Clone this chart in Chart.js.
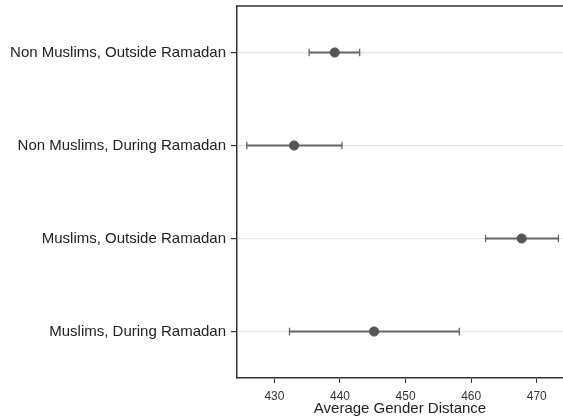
<!DOCTYPE html>
<html>
<head>
<meta charset="utf-8">
<script src="https://cdn.jsdelivr.net/npm/chart.js@4.4.1/dist/chart.umd.min.js"></script>
<style>
  body { margin: 0; background: #fff; }
</style>
</head>
<body>
<canvas id="dotChart" width="563" height="418"></canvas>
<script>
// groups, top to bottom
const groups = [
  'Non Muslims, Outside Ramadan',
  'Non Muslims, During Ramadan',
  'Muslims, Outside Ramadan',
  'Muslims, During Ramadan'
];
const means = [439.2, 433.0, 467.7, 445.2];
const lowers = [435.3, 425.8, 462.2, 432.3];
const uppers = [443.0, 440.3, 473.3, 458.2];
const xTicks = [430, 440, 450, 460, 470];

const topBorder = {
  id: 'topBorder',
  afterDraw(chart) {
    const { ctx, chartArea } = chart;
    ctx.save();
    ctx.strokeStyle = '#333';
    ctx.lineWidth = 1.5;
    ctx.beginPath();
    ctx.moveTo(chartArea.left, chartArea.top);
    ctx.lineTo(chartArea.right, chartArea.top);
    ctx.stroke();
    ctx.restore();
  }
};

const ctx = document.getElementById('dotChart').getContext('2d');
new Chart(ctx, {
  type: 'bar',
  data: {
    labels: groups,
    datasets: [
      {
        type: 'line',
        label: 'mean',
        data: means,
        showLine: false,
        pointRadius: 4.6,
        pointBackgroundColor: '#555',
        pointBorderColor: '#555',
        order: 0
      },
      {
        type: 'line',
        label: 'low',
        data: lowers,
        showLine: false,
        pointStyle: 'line',
        rotation: 90,
        pointRadius: 3.8,
        pointBorderWidth: 1.3,
        pointBorderColor: '#666',
        order: 1
      },
      {
        type: 'line',
        label: 'high',
        data: uppers,
        showLine: false,
        pointStyle: 'line',
        rotation: 90,
        pointRadius: 3.8,
        pointBorderWidth: 1.3,
        pointBorderColor: '#666',
        order: 1
      },
      {
        label: 'ci',
        data: groups.map((g, i) => [lowers[i], uppers[i]]),
        backgroundColor: '#666',
        borderWidth: 0,
        barThickness: 1.4,
        order: 2
      }
    ]
  },
  options: {
    indexAxis: 'y',
    responsive: false,
    animation: false,
    layout: {
      autoPadding: false,
      padding: { top: 6, right: 0, left: 0, bottom: 0 }
    },
    plugins: {
      legend: { display: false },
      tooltip: { enabled: false }
    },
    scales: {
      x: {
        type: 'linear',
        min: 424.3,
        max: 474,
        afterBuildTicks: (scale) => {
          scale.ticks = xTicks.map(v => ({ value: v }));
        },
        afterFit: (scale) => {
          scale.height = 40;
          scale.paddingLeft = 0;
          scale.paddingRight = 0;
        },
        grid: {
          drawOnChartArea: false,
          drawTicks: true,
          tickLength: 5,
          color: '#333'
        },
        border: { display: true, color: '#333', width: 1.5 },
        ticks: {
          padding: 6,
          color: '#333',
          font: { family: "'Liberation Sans', Arial", size: 12 }
        },
        title: {
          display: true,
          text: 'Average Gender Distance',
          color: '#222',
          padding: 0,
          font: { family: "'Liberation Sans', Arial", size: 15 }
        }
      },
      y: {
        type: 'category',
        offset: true,
        afterFit: (scale) => {
          scale.width = 237;
          scale.paddingTop = 0;
          scale.paddingBottom = 0;
        },
        grid: {
          offset: false,
          color: '#e6e6e6',
          tickColor: '#333',
          tickLength: 6,
          lineWidth: 1.2
        },
        border: { display: true, color: '#333', width: 1.5 },
        ticks: {
          padding: 5,
          color: '#222',
          font: { family: "'Liberation Sans', Arial", size: 15 }
        }
      }
    }
  },
  plugins: [topBorder]
});
</script>
</body>
</html>
